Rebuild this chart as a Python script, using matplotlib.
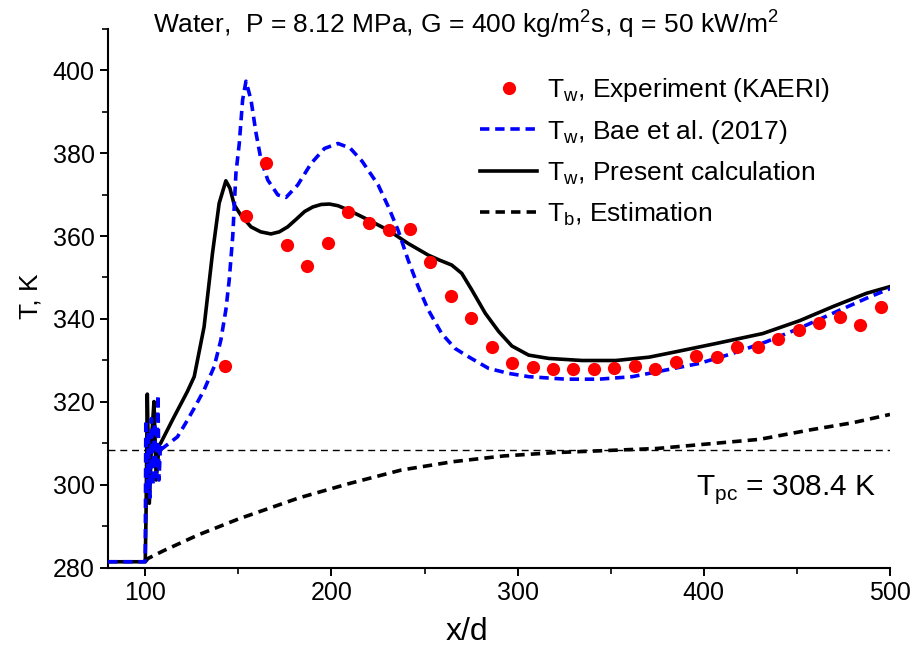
import matplotlib
matplotlib.use("Agg")
import matplotlib.pyplot as plt
from matplotlib.ticker import MultipleLocator

plt.rcParams["font.family"] = ["Liberation Sans", "DejaVu Sans"]
plt.rcParams["mathtext.fontset"] = "custom"
plt.rcParams["mathtext.rm"] = "Liberation Sans"

# ---- data --------------------------------------------------------------
exp_x = [143, 154, 165, 176, 187, 198, 209, 220, 231, 242, 253, 264, 275, 286,
         297, 308, 319, 330, 341, 352, 363, 374, 385, 396, 407, 418, 429, 440,
         451, 462, 473, 484, 495]
exp_y = [328.7, 364.8, 377.5, 357.8, 352.8, 358.2, 365.7, 363.2, 361.4, 361.8,
         353.7, 345.5, 340.2, 333.2, 329.5, 328.5, 327.9, 328.0, 328.0, 328.3,
         328.7, 328.0, 329.7, 331.1, 330.8, 333.3, 333.3, 335.2, 337.3, 339.1,
         340.4, 338.6, 342.8]

bae_x = [80, 100, 100.3, 101.0, 101.7, 102.5, 103.3, 104.2, 105.0, 105.8, 106.8,
         107.4, 108.2, 109.2, 117.3, 121.7, 126.3, 131.6, 137, 140.6, 143.3, 145.1,
         147, 148.7, 150.5, 152.3, 154.1, 156.8, 159.5, 162.2, 165.8, 171.2, 175.6,
         181.9, 189.1, 196.3, 203.5, 210, 216.5, 225.1, 230.5, 235.8, 241.2, 246.6,
         252, 259.2, 266.4, 273.6, 284.4, 295.1, 306, 325.7, 343.7, 361.6, 379.6,
         397.6, 415.5, 433.5, 451.5, 469.4, 487.4, 498.2, 500]
bae_y = [281.5, 281.5, 315.7, 298, 313, 297, 316, 300, 315, 302, 321.7,
         301.2, 310, 308.8, 311.6, 314.9, 318.5, 322.9, 328.5, 334.9, 342.2, 349.4,
         360, 375.1, 382.3, 392.8, 397.3, 392.8, 384.8, 378.3, 373.5, 369.9, 369.3,
         372.3, 377.5, 381.1, 382.3, 381.2, 378, 372.3, 367.1, 361.4, 354.2, 347.8,
         342.2, 336.5, 332.9, 330.9, 328.1, 326.9, 326.1, 325.5, 325.5, 326.1, 327.7,
         329.3, 331.7, 334.5, 337.8, 341.4, 345, 347, 347.3]

calc_x = [80, 100, 100.4, 101.1, 102.2, 103.5, 104.7, 105.9, 107.4, 108.2, 115,
          122.6, 126.3, 131.6, 136.1, 139.7, 143.3, 145.5, 147.8, 151.4, 156.8, 162,
          167.5, 172, 176.5, 181, 185.6, 190, 194.5, 199, 203.5, 208.9, 219.7, 230.5,
          241.2, 252, 258, 264.6, 270, 275.4, 282.6, 289.8, 296.9, 305.9, 316.7,
          334.7, 352.7, 370.6, 385, 406.6, 431.7, 451.5, 469.4, 487.4, 500]
calc_y = [281.5, 281.5, 292, 321.9, 295.6, 312, 320.1, 301.2, 309.6, 310, 316,
          322.5, 326.1, 338.1, 355.8, 367.9, 373.3, 371.5, 367.5, 365.0, 362.2, 361,
          360.5, 361, 362.2, 364, 365.9, 367, 367.6, 367.7, 367.3, 366.3, 363.9, 361.4,
          358.2, 355.4, 354.2, 353, 351, 347, 341.4, 337, 333.5, 331.3, 330.5,
          330, 330, 330.8, 332.1, 334.1, 336.5, 339.6, 343, 346.2, 347.8]

tb_x = [100, 101.5, 110, 128.6, 150, 182.6, 210, 237.5, 265, 292.5, 320, 347.5,
        375, 402.4, 429.9, 457.4, 480, 500]
tb_y = [281.5, 282.3, 284.2, 288, 291.8, 296.9, 300.4, 303.6, 305.6, 307, 307.8,
        308.3, 308.8, 309.9, 311, 313.3, 315, 317]

T_pc = 308.4

# ---- figure -------------------------------------------------------------
fig = plt.figure(figsize=(9.13, 6.45), dpi=100)
ax = fig.add_axes([0.1183, 0.1194, 0.8565, 0.8364])

ax.axhline(T_pc, color="black", lw=1.0, ls=(0, (5, 3.5)), zorder=1)
ax.plot(tb_x, tb_y, color="black", lw=2.6, dashes=(2.6, 1.7),
        label=r"T$_\mathregular{b}$, Estimation", zorder=2)
ax.plot(calc_x, calc_y, color="black", lw=2.6,
        label=r"T$_\mathregular{w}$, Present calculation", zorder=3)
ax.plot(bae_x, bae_y, color="#0000ff", lw=2.6, dashes=(2.6, 1.6),
        label=r"T$_\mathregular{w}$, Bae et al. (2017)", zorder=4)
ax.plot(exp_x, exp_y, "o", color="#ff0000", ms=9.5, mec="none",
        label=r"T$_\mathregular{w}$, Experiment (KAERI)", zorder=5)

ax.set_xlim(80, 500)
ax.set_ylim(280, 410)
ax.xaxis.set_major_locator(MultipleLocator(100))
ax.xaxis.set_minor_locator(MultipleLocator(50))
ax.yaxis.set_minor_locator(MultipleLocator(10))
ax.set_yticks([280, 300, 320, 340, 360, 380, 400])

for s in ["top", "right"]:
    ax.spines[s].set_visible(False)
for s in ["left", "bottom"]:
    ax.spines[s].set_linewidth(1.5)
ax.tick_params(which="major", direction="out", length=6, width=1.4, labelsize=18)
ax.tick_params(which="minor", direction="out", length=4, width=1.2)

ax.set_xlabel("x/d", fontsize=23)
ax.xaxis.set_label_coords((467 - 108) / 782, -0.09)
ax.set_ylabel("T, K", fontsize=19)
ax.yaxis.set_label_coords(-0.084, (568 - 296) / 539.5)

h, l = ax.get_legend_handles_labels()
order = [3, 2, 1, 0]
ax.legend([h[i] for i in order], [l[i] for i in order], frameon=False,
          fontsize=19, loc="upper left", bbox_to_anchor=(0.476, 0.912),
          handlelength=2.16, handletextpad=0.38, labelspacing=0.52,
          borderaxespad=0, borderpad=0)

ax.text(396, 298.8, r"T$_\mathregular{pc}$ = 308.4 K", fontsize=21.5,
        va="center", ha="left")
fig.text(466 / 913, 1 - 24 / 645,
         r"Water,  P = 8.12 MPa, G = 400 kg/m$^\mathregular{2}$s, q = 50 kW/m$^\mathregular{2}$",
         fontsize=19, ha="center", va="center")

fig.savefig("out.png", dpi=100)
